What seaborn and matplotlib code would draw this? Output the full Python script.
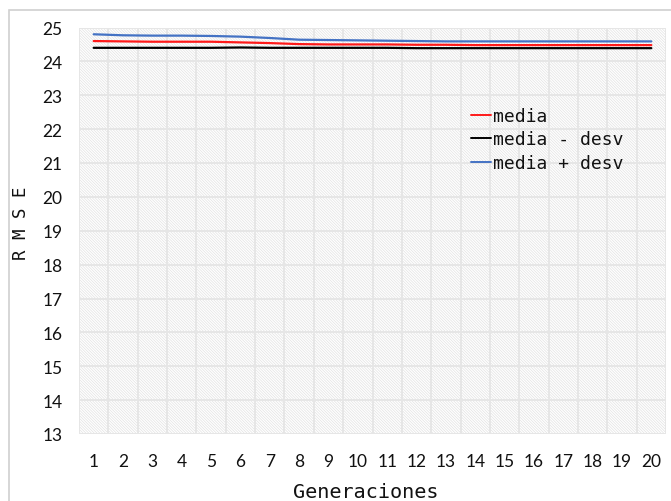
import matplotlib
matplotlib.use("Agg")
import matplotlib.pyplot as plt
from matplotlib.patches import Rectangle
import seaborn as sns
import pandas as pd

# RMSE per generation (mean and mean +/- one standard deviation)
generaciones = list(range(1, 21))
media = [24.60, 24.59, 24.58, 24.58, 24.58, 24.56, 24.54, 24.51, 24.50, 24.50,
         24.50, 24.49, 24.49, 24.48, 24.48, 24.48, 24.48, 24.48, 24.48, 24.48]
media_menos = [24.40, 24.40, 24.40, 24.40, 24.40, 24.41, 24.40, 24.40, 24.40, 24.40,
               24.40, 24.39, 24.39, 24.39, 24.39, 24.39, 24.39, 24.39, 24.39, 24.39]
media_mas = [24.80, 24.77, 24.76, 24.76, 24.75, 24.73, 24.69, 24.64, 24.63, 24.62,
             24.61, 24.60, 24.59, 24.59, 24.59, 24.59, 24.59, 24.59, 24.59, 24.59]
series_names = ["media", "media - desv", "media + desv"]
y_ticks = list(range(13, 26))

df = pd.DataFrame({
    "pos": list(range(len(generaciones))) * 3,
    "valor": media + media_menos + media_mas,
    "serie": [series_names[0]] * 20 + [series_names[1]] * 20 + [series_names[2]] * 20,
})

sns.set_theme(style="white")
plt.rcParams["hatch.linewidth"] = 0.5

fig = plt.figure(figsize=(6.71, 5.02), dpi=100)
ax = fig.add_axes([79 / 671, 67 / 502, 587 / 671, 406.5 / 502])

# hatched plot area background
ax.add_patch(Rectangle((0, 0), 1, 1, transform=ax.transAxes, facecolor="white",
                       edgecolor="#e2e2e2", linewidth=0, hatch="\\" * 12, zorder=0))

palette = {"media": "#ff1a1a", "media - desv": "#000000", "media + desv": "#4472c4"}
sns.lineplot(data=df, x="pos", y="valor", hue="serie", hue_order=series_names,
             palette=palette, linewidth=1.6, ax=ax, zorder=3)

ax.set_xlim(-0.5, len(generaciones) - 0.5)
ax.set_ylim(13, 25)
ax.set_xticks(range(len(generaciones)))
ax.set_xticklabels([str(g) for g in generaciones])
ax.set_xticks([i - 0.5 for i in range(len(generaciones) + 1)], minor=True)
ax.set_yticks(y_ticks)
ax.grid(False)
ax.grid(True, which="minor", axis="x", color="#e6e6e6", linewidth=1.4, zorder=1)
ax.grid(True, which="major", axis="y", color="#e6e6e6", linewidth=1.4, zorder=1)
ax.set_axisbelow(False)
for s in ax.spines.values():
    s.set_visible(False)

ax.tick_params(axis="both", which="both", length=0)
ax.tick_params(axis="y", pad=12)
ax.tick_params(axis="x", pad=14)
for lab in ax.get_xticklabels() + ax.get_yticklabels():
    lab.set_fontfamily("Lato")
    lab.set_fontsize(12.5)
    lab.set_color("#111111")

ax.set_xlabel("Generaciones", fontfamily="DejaVu Sans Mono", fontsize=14.5, color="#111111")
ax.xaxis.set_label_coords(0.488, -0.118)
ax.set_ylabel("R M S E", fontfamily="DejaVu Sans Mono", fontsize=12.5, color="#111111")
ax.yaxis.set_label_coords(-0.083, 0.52)

leg = ax.legend(loc="upper left", bbox_to_anchor=(0.655, 0.822), frameon=False,
                prop={"family": "DejaVu Sans Mono", "size": 13},
                handlelength=1.1, handletextpad=0.15, labelspacing=0.3,
                borderaxespad=0)
for t in leg.get_texts():
    t.set_color("#111111")
for h in leg.get_lines():
    h.set_linewidth(1.4)

# outer chart frame
fig.add_artist(Rectangle((8.5 / 671, -0.1), 2.0, (502 - 10.5) / 502 + 0.1,
                         transform=fig.transFigure, fill=False,
                         edgecolor="#d0d0d0", linewidth=1.2))

fig.savefig("out.png", dpi=100)
